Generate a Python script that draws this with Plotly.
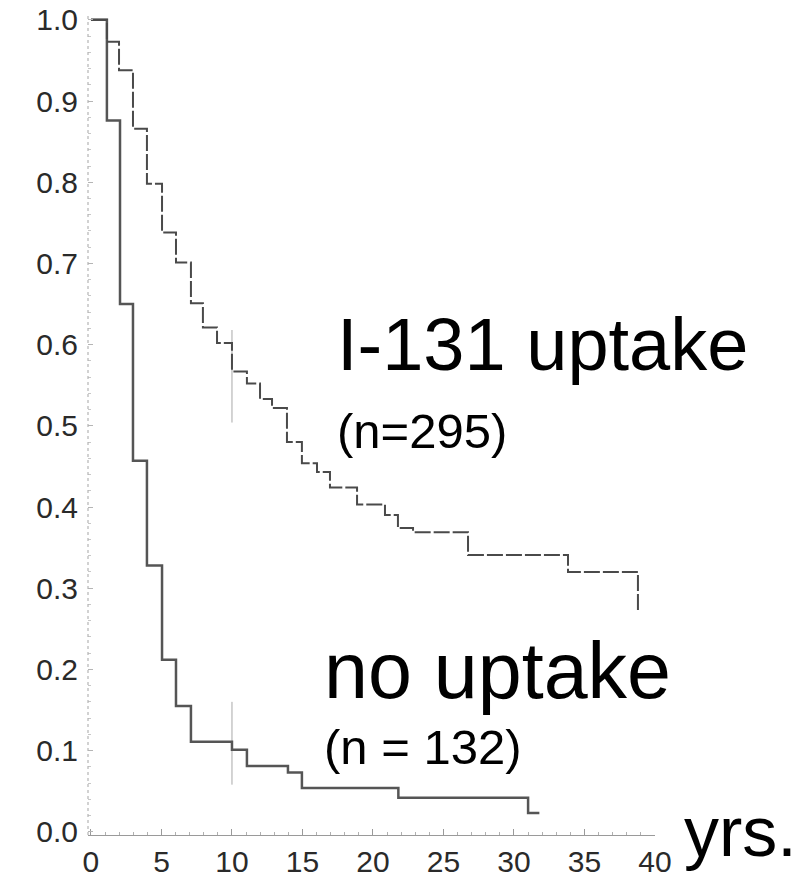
import plotly.graph_objects as go

# ---- data ----
no_uptake_t = [0, 1.13, 2.06, 2.98, 3.97, 5.04, 6.03, 7.09, 10.0, 11.06, 13.97, 14.96, 21.8, 31.0, 31.8]
no_uptake_s = [1.0, 0.876, 0.650, 0.457, 0.328, 0.212, 0.155, 0.111, 0.101, 0.081, 0.073, 0.054, 0.042, 0.023, 0.023]

uptake_t = [0, 1.13, 1.99, 2.98, 3.97, 5.04, 6.03, 7.09, 7.94, 8.94, 10.0, 11.06, 11.99, 12.84,
            13.9, 14.96, 16.03, 16.95, 18.87, 20.85, 21.77, 22.84, 26.74, 33.83, 38.79]
uptake_s = [1.0, 0.973, 0.938, 0.866, 0.798, 0.738, 0.701, 0.651, 0.621, 0.602, 0.567, 0.552, 0.533, 0.522,
            0.480, 0.454, 0.443, 0.424, 0.403, 0.390, 0.374, 0.369, 0.341, 0.320, 0.271]

censor_no_t = [10.0, 10.0]
censor_no_s = [0.160, 0.058]
censor_up_t = [10.0, 10.0]
censor_up_s = [0.618, 0.504]

x_ticks = [0, 5, 10, 15, 20, 25, 30, 35, 40]
y_ticks = [0.0, 0.1, 0.2, 0.3, 0.4, 0.5, 0.6, 0.7, 0.8, 0.9, 1.0]

FONT = "Liberation Sans, Arial, Helvetica, sans-serif"

fig = go.Figure()

fig.add_trace(go.Scatter(x=censor_no_t, y=censor_no_s, mode="lines",
                         line=dict(color="#a8a8a8", width=1), showlegend=False, hoverinfo="skip"))
fig.add_trace(go.Scatter(x=censor_up_t, y=censor_up_s, mode="lines",
                         line=dict(color="#a8a8a8", width=1), showlegend=False, hoverinfo="skip"))

fig.add_trace(go.Scatter(x=no_uptake_t, y=no_uptake_s, mode="lines", line_shape="hv",
                         line=dict(color="#555555", width=2.5), name="no uptake", showlegend=False))
fig.add_trace(go.Scatter(x=uptake_t, y=uptake_s, mode="lines", line_shape="hv",
                         line=dict(color="#4a4a4a", width=2, dash="16px,3px"), name="I-131 uptake",
                         showlegend=False))

# dotted y-axis line
fig.add_shape(type="line", xref="paper", yref="paper", x0=0, x1=0, y0=0, y1=1,
              line=dict(color="#b5b5b5", width=1.2, dash="dot"))

annots = [
    dict(text="I-131 uptake", x=17.3, y=0.600, size=74),
    dict(text="(n=295)", x=17.3, y=0.494, size=49),
    dict(text="no uptake", x=16.4, y=0.199, size=79),
    dict(text="(n = 132)", x=16.4, y=0.105, size=49),
]
for a in annots:
    fig.add_annotation(x=a["x"], y=a["y"], xref="x", yref="y", text=a["text"], showarrow=False,
                       xanchor="left", yanchor="middle",
                       font=dict(family=FONT, size=a["size"], color="#000000"))

# axis unit label to the right of the x axis
fig.add_annotation(x=1.048, y=0.004, xref="paper", yref="paper", text="yrs.", showarrow=False,
                   xanchor="left", yanchor="middle",
                   font=dict(family=FONT, size=70, color="#000000"))

fig.update_layout(
    width=798, height=877,
    margin=dict(l=88, r=143, t=15, b=42),
    paper_bgcolor="#ffffff", plot_bgcolor="#ffffff",
    showlegend=False,
    font=dict(family=FONT, color="#2a2a2a"),
)
fig.update_xaxes(
    automargin=False,
    range=[-0.21, 40.0], tickmode="array", tickvals=x_ticks, ticktext=[str(v) for v in x_ticks],
    showgrid=False, zeroline=False, showline=True, linecolor="#9a9a9a", linewidth=1,
    ticks="inside", ticklen=6, tickcolor="#9a9a9a", tickwidth=1,
    minor=dict(dtick=1, ticks="inside", ticklen=3, tickcolor="#b0b0b0", showgrid=False),
    tickfont=dict(size=30, color="#2a2a2a", family=FONT), ticklabelstandoff=0,
)
fig.update_yaxes(
    automargin=False,
    range=[-0.004, 1.006], tickmode="array", tickvals=y_ticks, ticktext=[f"{v:.1f}" for v in y_ticks],
    showgrid=False, zeroline=False, showline=False,
    ticks="inside", ticklen=5, tickcolor="#b5b5b5", tickwidth=1,
    minor=dict(dtick=0.02, tick0=0, ticks="inside", ticklen=3, tickcolor="#c8c8c8", showgrid=False),
    tickfont=dict(size=30, color="#2a2a2a", family=FONT), ticklabelstandoff=9,
)

fig.write_html("out.html")
